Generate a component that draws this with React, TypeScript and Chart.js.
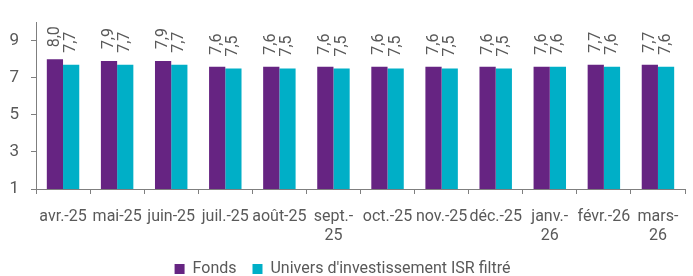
import React, { useEffect, useRef } from "react";
import { Chart, registerables } from "chart.js";

Chart.register(...registerables);

const categories: (string | string[])[] = [
  "avr.-25", "mai-25", "juin-25", "juil.-25", "août-25", ["sept.-", "25"],
  "oct.-25", "nov.-25", "déc.-25", ["janv.-", "26"], "févr.-26", ["mars-", "26"],
];
const fonds = [8.0, 7.9, 7.9, 7.6, 7.6, 7.6, 7.6, 7.6, 7.6, 7.6, 7.7, 7.7];
const univers = [7.7, 7.7, 7.7, 7.5, 7.5, 7.5, 7.5, 7.5, 7.5, 7.6, 7.6, 7.6];
const yTicks = [1, 3, 5, 7, 9];

const TEXT = "#595959";
const FONT = "Roboto";

const labelPlugin = {
  id: "rotLabels",
  afterDatasetsDraw(chart: any) {
    const ctx: CanvasRenderingContext2D = chart.ctx;
    chart.data.datasets.forEach((ds: any, i: number) => {
      const meta = chart.getDatasetMeta(i);
      meta.data.forEach((bar: any, j: number) => {
        const v = ds.data[j];
        const txt = v.toFixed(1).replace(".", ",");
        ctx.save();
        ctx.transform(0, -1, 1, 0, bar.x, bar.y - 12);
        ctx.font = `16px ${FONT}`;
        ctx.fillStyle = TEXT;
        ctx.textAlign = "left";
        ctx.textBaseline = "middle";
        ctx.fillText(txt, 0, 0);
        ctx.restore();
      });
    });
  },
};

export default function App() {
  const ref = useRef<HTMLCanvasElement>(null);
  useEffect(() => {
    document.body.style.margin = "0";
    const chart = new Chart(ref.current!, {
      type: "bar",
      data: {
        labels: categories,
        datasets: [
          { label: "Fonds", data: fonds, backgroundColor: "#662482", barPercentage: 1, categoryPercentage: 0.6 },
          { label: "Univers d'investissement ISR filtré", data: univers, backgroundColor: "#00afc7", barPercentage: 1, categoryPercentage: 0.6 },
        ],
      },
      options: {
        animation: false,
        responsive: false,
        maintainAspectRatio: false,
        layout: { padding: { top: 14, right: 8, left: 0, bottom: -11 } },
        plugins: {
          tooltip: { enabled: false },
          legend: {
            position: "bottom",
            labels: {
              boxWidth: 10,
              boxHeight: 10,
              color: TEXT,
              font: { family: FONT, size: 16 },
              padding: 16,
            },
          },
        },
        scales: {
          x: {
            afterFit: (scale: any) => {
              scale.height = 56;
            },
            grid: { drawOnChartArea: false, color: "#7f7f7f", tickLength: 5, offset: true },
            border: { color: "#7f7f7f", width: 1 },
            ticks: {
              color: TEXT,
              font: { family: FONT, size: 16 },
              maxRotation: 0,
              autoSkip: false,
              padding: 13,
            },
          },
          y: {
            min: 1,
            max: 10,
            afterBuildTicks: (scale: any) => {
              scale.ticks = yTicks.map((v) => ({ value: v }));
            },
            afterFit: (scale: any) => {
              scale.width = 36;
            },
            grid: { drawOnChartArea: false, color: "#7f7f7f", tickLength: 5 },
            border: { color: "#7f7f7f", width: 1 },
            ticks: {
              color: TEXT,
              font: { family: FONT, size: 17 },
              padding: 12,
            },
          },
        },
      },
      plugins: [labelPlugin],
    } as any);
    return () => chart.destroy();
  }, []);
  return (
    <div style={{ position: "fixed", left: 0, top: 0, width: 693, height: 276 }}>
      <canvas ref={ref} width={693} height={276} style={{ width: 693, height: 276 }} />
    </div>
  );
}
